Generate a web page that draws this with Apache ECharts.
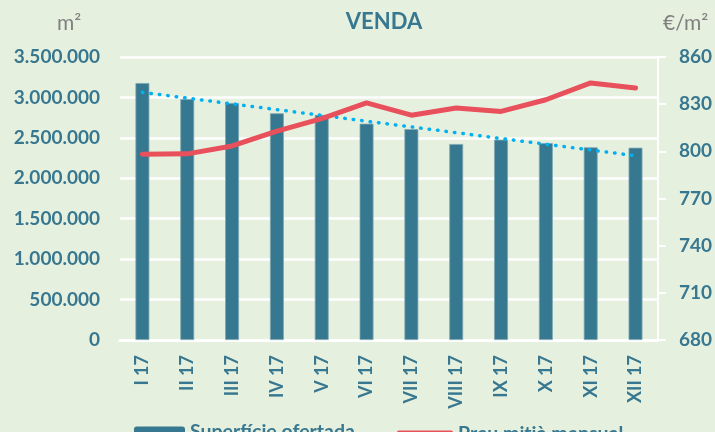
<!DOCTYPE html>
<html>
<head>
<meta charset="utf-8">
<script src="https://cdn.jsdelivr.net/npm/echarts@6/dist/echarts.min.js"></script>
<style>
  html, body { margin: 0; padding: 0; background: #e6f0df; }
  #chart { width: 715px; height: 432px; }
</style>
</head>
<body>
<div id="chart"></div>
<script>
// Data
const months = ['I 17', 'II 17', 'III 17', 'IV 17', 'V 17', 'VI 17', 'VII 17', 'VIII 17', 'IX 17', 'X 17', 'XI 17', 'XII 17']
const surface = [3178000, 2980000, 2931000, 2804000, 2783000, 2675000, 2609000, 2424000, 2477000, 2436000, 2383000, 2378000]
const price = [798.2, 798.4, 803.4, 812.9, 820.8, 830.8, 823.0, 827.6, 825.4, 832.8, 843.5, 840.3]
const trend = [3063000, 2992000, 2920000, 2849000, 2778000, 2706000, 2635000, 2564000, 2492000, 2421000, 2350000, 2279000]

// Colors
const TEAL = '#36788f'
const LABEL = '#37778f'
const RED = '#e8505b'
const TREND = '#00b0f0'
const UNIT = '#808080'
const FONT = 'Lato'

const fmt = (v) => String(v).replace(/\B(?=(\d{3})+(?!\d))/g, '.')

const chart = echarts.init(document.getElementById('chart'))

chart.setOption({
  animation: false,
  backgroundColor: '#e6f0df',
  textStyle: { fontFamily: FONT },
  title: [
    {
      text: 'VENDA', left: 384, top: 11, textAlign: 'center', padding: 0,
      textStyle: { color: LABEL, fontSize: 22, fontWeight: 'bold', fontFamily: FONT },
    },
    {
      text: 'm²', left: 57, top: 13, padding: 0,
      textStyle: { color: UNIT, fontSize: 21, fontWeight: 'normal', fontFamily: FONT },
    },
    {
      text: '€/m²', left: 663, top: 13, padding: 0,
      textStyle: { color: UNIT, fontSize: 21, fontWeight: 'normal', fontFamily: FONT },
    },
  ],
  grid: { left: 120, right: 52, top: 57, bottom: 92 },
  legend: [
    {
      data: ['Superfície ofertada'], left: 134, top: 422, padding: 0,
      itemWidth: 51, itemHeight: 11, itemGap: 6,
      itemStyle: { borderWidth: 0 },
      textStyle: { color: LABEL, fontSize: 19.5, fontWeight: 'bold', fontFamily: FONT },
    },
    {
      data: [{ name: 'Preu mitjà mensual', icon: 'roundRect' }], left: 397, top: 424, padding: 0,
      itemWidth: 56, itemHeight: 7,
      itemStyle: { borderWidth: 0 },
      textStyle: { color: LABEL, fontSize: 19.5, fontWeight: 'bold', fontFamily: FONT },
    },
  ],
  xAxis: {
    type: 'category',
    data: months,
    axisLine: { show: true, lineStyle: { color: '#ffffff', width: 3 } },
    axisTick: { show: false },
    axisLabel: { rotate: 90, margin: 15, color: LABEL, fontSize: 18, fontWeight: 'bold', fontFamily: FONT },
  },
  yAxis: [
    {
      type: 'value', min: 0, max: 3500000, interval: 500000,
      axisLine: { show: false },
      axisTick: { show: false },
      splitLine: { show: true, lineStyle: { color: '#ffffff', width: 2.5 } },
      axisLabel: { margin: 20, color: LABEL, fontSize: 19, fontWeight: 'bold', fontFamily: FONT, formatter: fmt },
    },
    {
      type: 'value', min: 680, max: 860, interval: 30, position: 'right',
      axisLine: { show: true, lineStyle: { color: '#ffffff', width: 2 } },
      axisTick: { show: true, length: 8, inside: false, lineStyle: { color: '#ffffff', width: 2 } },
      splitLine: { show: false },
      axisLabel: { margin: 21, color: LABEL, fontSize: 19, fontWeight: 'bold', fontFamily: FONT },
    },
  ],
  series: [
    {
      name: 'Superfície ofertada',
      type: 'bar',
      yAxisIndex: 0,
      barWidth: '31%',
      itemStyle: { color: TEAL, borderColor: '#7fa6b3', borderWidth: 0.8 },
      data: surface,
      z: 2,
    },
    {
      name: 'Tendència',
      type: 'line',
      yAxisIndex: 0,
      showSymbol: false,
      lineStyle: { color: TREND, width: 3.5, type: [0.5, 8], cap: 'round' },
      data: trend,
      z: 3,
    },
    {
      name: 'Preu mitjà mensual',
      type: 'line',
      yAxisIndex: 1,
      showSymbol: false,
      itemStyle: { color: RED },
      lineStyle: { color: RED, width: 5, cap: 'round', join: 'round' },
      data: price,
      z: 4,
    },
  ],
})
</script>
</body>
</html>
